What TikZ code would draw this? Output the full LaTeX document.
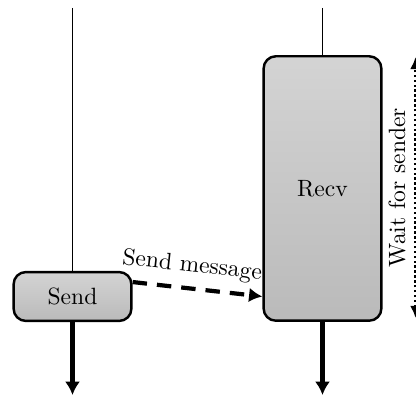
\documentclass[tikz,border=0pt]{standalone}
\usetikzlibrary{arrows.meta,calc}
\begin{document}
\begin{tikzpicture}[x=0.45pt,y=-0.45pt,
  box/.style={draw=black,line width=1.1pt,rounded corners=5.5pt,top color=black!17,bottom color=black!27,inner sep=0pt,font=\fontsize{10.6}{12}\selectfont},
  thinline/.style={line width=0.85pt},
  flow/.style={line width=1.9pt,-{Latex[length=6pt,width=6.8pt]}},
  msg/.style={line width=1.9pt,dash pattern=on 6.5pt off 4.5pt,-{Latex[length=6pt,width=6.5pt]}},
  waitarrow/.style={line width=1.1pt,dash pattern=on 1.1pt off 1.1pt,{Latex[length=5.5pt,width=5pt]}-{Latex[length=5.5pt,width=5pt]}},
  lab/.style={font=\fontsize{10.6}{12}\selectfont}]
\useasboundingbox (0,0) rectangle (416,396);
\node[box,minimum width=53pt,minimum height=22pt] (send) at (72.5,296.5) {Send};
\node[box,minimum width=53pt,minimum height=119pt] (recv) at (322.5,188.5) {Recv};
\coordinate (topA) at (72.5,8);
\coordinate (topB) at (322.5,8);
\coordinate (botA) at (72.5,395);
\coordinate (botB) at (322.5,395);
\coordinate (waitTop) at (415.5,57);
\coordinate (waitBot) at (415.5,318);
\draw[thinline] (topA) -- (send.north);
\draw[thinline] (topB) -- (recv.north);
\draw[flow] (send.south) -- (botA);
\draw[flow] (recv.south) -- (botB);
\draw[msg] ([yshift=6.5pt]send.east) -- (recv.west |- send.east)
  node[pos=0.44,above=1pt,sloped,lab] {Send message};
\draw[waitarrow] (waitBot) -- (waitTop) node[midway,above=0.5pt,sloped,lab] {Wait for sender};
\end{tikzpicture}
\end{document}
